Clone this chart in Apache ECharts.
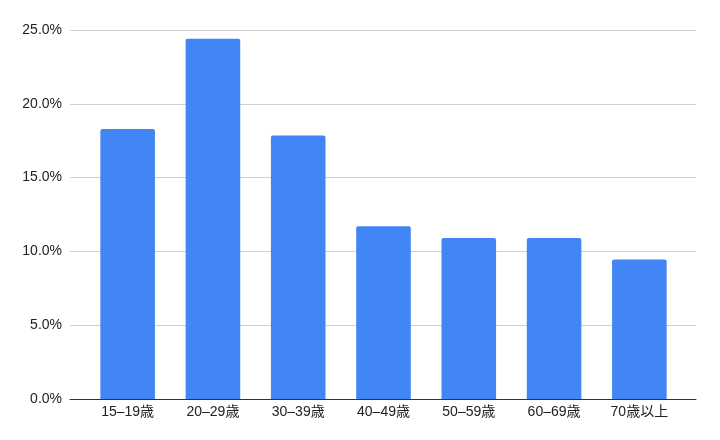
<!DOCTYPE html>
<html><head><meta charset="utf-8">
<script src="https://cdn.jsdelivr.net/npm/echarts@6/dist/echarts.min.js"></script>
<style>html,body{margin:0;padding:0;background:#fff}#c{width:720px;height:440px}</style>
</head><body><div id="c"></div>
<script>
const categories = ['15–19歳','20–29歳','30–39歳','40–49歳','50–59歳','60–69歳','70歳以上'];
const values = [18.3, 24.4, 17.85, 11.7, 10.9, 10.9, 9.45];
const yMin = 0, yMax = 25, yStep = 5;
const font = 'Liberation Sans, Arial, "Noto Sans CJK JP", sans-serif';
const chart = echarts.init(document.getElementById('c'), null, {renderer:'canvas'});
chart.setOption({
  animation: false,
  grid: [
    {left:70, right:24, top:30, bottom:41},
    {left:85, right:38, top:30, bottom:41}
  ],
  xAxis: [
    {type:'value', gridIndex:0, min:0, max:1, axisLine:{show:true, onZero:false, lineStyle:{color:'#333', width:1}}, axisTick:{show:false}, axisLabel:{show:false}, splitLine:{show:false}},
    {type:'category', gridIndex:1, data:categories, axisLine:{show:false}, axisTick:{show:false},
     axisLabel:{color:'#222', fontSize:14, fontFamily:font, margin:6}}
  ],
  yAxis: [
    {type:'value', gridIndex:0, min:yMin, max:yMax, interval:yStep, axisLine:{show:false}, axisTick:{show:false},
     axisLabel:{color:'#222', fontSize:14, fontFamily:font, margin:8, formatter:v=>v.toFixed(1)+'%'},
     splitLine:{lineStyle:{color:'#d0d0d0', width:1}}},
    {type:'value', gridIndex:1, min:yMin, max:yMax, interval:yStep, show:false, splitLine:{show:false}}
  ],
  series: [{
    type:'bar', xAxisIndex:1, yAxisIndex:1, data:values, barCategoryGap:'36%',
    itemStyle:{color:'#4285F4', borderRadius:[2,2,0,0]}
  }]
});
</script></body></html>
